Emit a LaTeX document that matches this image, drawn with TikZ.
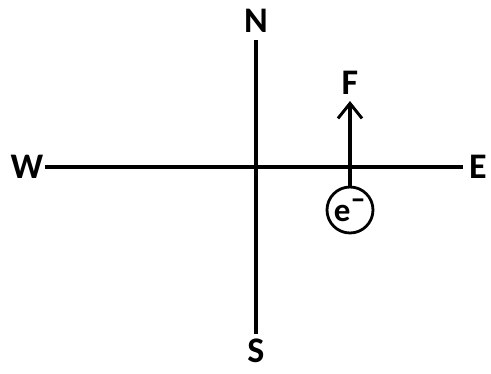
\documentclass[tikz,border=0pt]{standalone}
\usepackage{fontspec}
\setmainfont{Carlito}
\usetikzlibrary{arrows.meta}
\begin{document}
\begin{tikzpicture}[x=1pt,y=1pt,
  axis/.style={line width=3.3pt},
  lbl/.style={font=\bfseries\fontsize{36}{36}\selectfont, inner sep=0pt},
  elec/.style={circle, draw, line width=2.8pt, minimum size=46pt, inner sep=0pt, font=\bfseries\fontsize{33}{33}\selectfont}]
\useasboundingbox (0,0) rectangle (491,-373);
\node[lbl] (W) at (27,-167) {W};
\node[lbl] (E) at (478,-167) {E};
\node[lbl] (N) at (256,-21) {N};
\node[lbl] (S) at (256,-351) {S};
\node[lbl] (F) at (350,-83) {F};
\node[elec] (e) at (350,-210) {\raisebox{-1pt}{e}\textsuperscript{\raisebox{2pt}{\scalebox{1.3}[1.4]{–}}}};
\coordinate (wl) at (45,-167);
\coordinate (er) at (463,-167);
\coordinate (nt) at (256,-40);
\coordinate (sb) at (256,-334);
\coordinate (ft) at (350,-101);
\draw[axis] (wl) -- (er);
\draw[axis] (nt) -- (sb);
\draw[axis, -{Straight Barb[length=15pt,width=24pt,line width=3pt]}] (e.north) -- (ft);
\end{tikzpicture}
\end{document}
